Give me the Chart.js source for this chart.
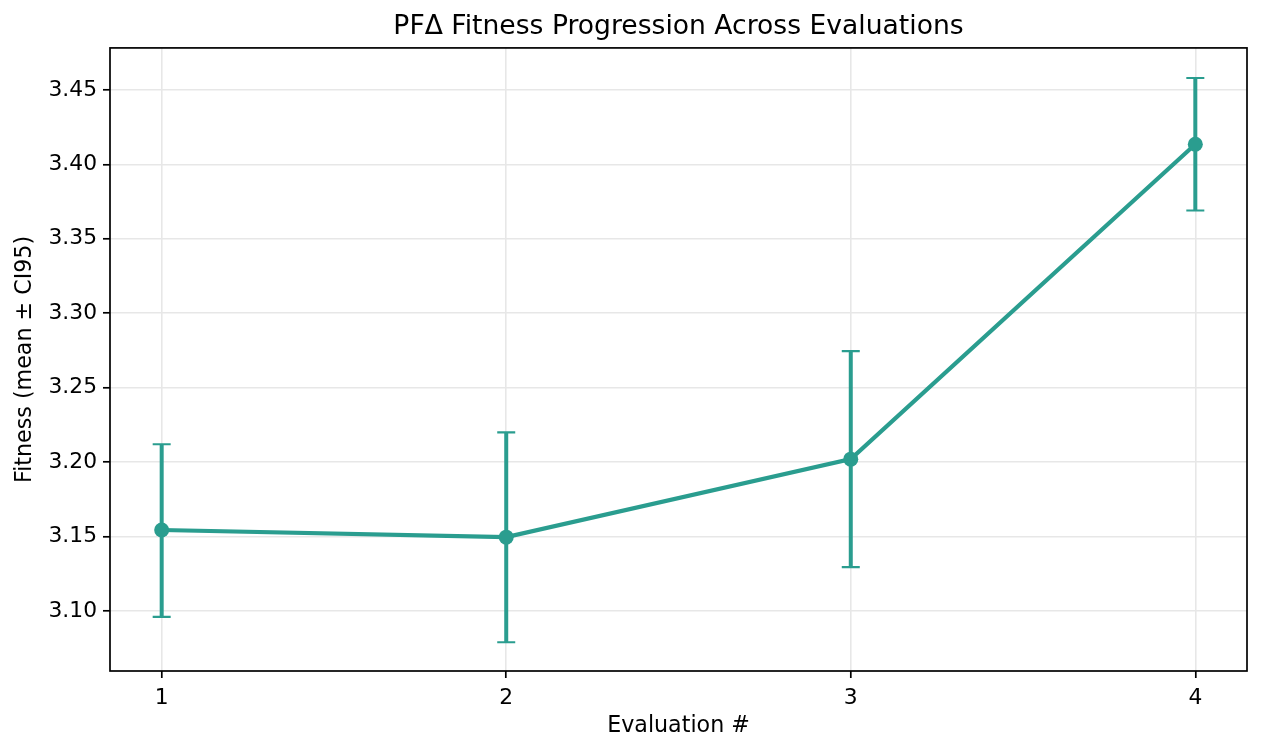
<!DOCTYPE html>
<html>
<head>
<meta charset="utf-8">
<script src="https://cdn.jsdelivr.net/npm/chart.js@4.4.1/dist/chart.umd.min.js"></script>
<style>
html,body{margin:0;padding:0;background:#fff;}
#wrap{width:1264px;height:752px;}
</style>
</head>
<body>
<div id="wrap"><canvas id="canvas" width="1264" height="752"></canvas></div>
<script>
var evaluations = [1, 2, 3, 4];
var meanFitness = [3.1544, 3.1496, 3.2020, 3.4135];
var ciLower = [3.0960, 3.0790, 3.1295, 3.3690];
var ciUpper = [3.2120, 3.2200, 3.2745, 3.4580];
var xTicks = [1, 2, 3, 4];
var yTicks = [3.10, 3.15, 3.20, 3.25, 3.30, 3.35, 3.40, 3.45];

var teal = "#2a9d8f";

var points = [];
for(var i = 0; i < evaluations.length; i++){
	points.push({x: evaluations[i], y: meanFitness[i]});
}

// error bars + full box around the plot
var errorBars = {
	id: "errorBars",
	beforeDatasetsDraw: function(chart){
		var ctx = chart.ctx;
		var xs = chart.scales.x, ys = chart.scales.y;
		ctx.save();
		ctx.strokeStyle = teal;
		for(var i = 0; i < evaluations.length; i++){
			var px = xs.getPixelForValue(evaluations[i]);
			var top = ys.getPixelForValue(ciUpper[i]);
			var bot = ys.getPixelForValue(ciLower[i]);
			ctx.lineWidth = 4;
			ctx.beginPath();
			ctx.moveTo(px, top); ctx.lineTo(px, bot);
			ctx.stroke();
			ctx.lineWidth = 2.2;
			ctx.beginPath();
			ctx.moveTo(px - 9, top); ctx.lineTo(px + 9, top);
			ctx.moveTo(px - 9, bot); ctx.lineTo(px + 9, bot);
			ctx.stroke();
		}
		ctx.restore();
	},
	afterDraw: function(chart){
		var a = chart.chartArea;
		var ctx = chart.ctx;
		ctx.save();
		ctx.strokeStyle = "#000";
		ctx.lineWidth = 1.7;
		ctx.strokeRect(a.left, a.top, a.right - a.left, a.bottom - a.top);
		ctx.restore();
	}
};

var canvas = document.getElementById("canvas");
var ctx = canvas.getContext("2d");
var chart = new Chart(ctx, {
	type: "line",
	data: {
		datasets: [{
			data: points,
			borderColor: teal,
			backgroundColor: teal,
			borderWidth: 4.2,
			pointRadius: 7.5,
			pointHoverRadius: 7.5,
			pointBorderWidth: 0,
			tension: 0,
			fill: false
		}]
	},
	options: {
		responsive: false,
		animation: false,
		devicePixelRatio: 1,
		layout: {padding: {left: 0, right: 17, top: 0, bottom: 0}},
		plugins: {
			legend: {display: false},
			tooltip: {enabled: false},
			title: {
				display: true,
				fullSize: false,
				text: "PF\u0394 Fitness Progression Across Evaluations",
				color: "#000",
				font: {family: "DejaVu Sans", size: 26.6, weight: "normal", lineHeight: 1.2},
				padding: {top: 11, bottom: 5}
			}
		},
		scales: {
			x: {
				type: "linear",
				min: 0.85,
				max: 4.15,
				afterBuildTicks: function(axis){
					axis.ticks = xTicks.map(function(v){ return {value: v}; });
				},
				afterFit: function(axis){ axis.height = 81; },
				grid: {color: "#e7e7e7", lineWidth: 1.6, tickColor: "#000", tickWidth: 1.7, tickLength: 7},
				border: {display: false},
				ticks: {color: "#000", font: {family: "DejaVu Sans", size: 21.8}, padding: 7,
					maxRotation: 0, callback: function(v){ return String(v); }},
				title: {display: true, text: "Evaluation #", color: "#000",
					font: {family: "DejaVu Sans", size: 22.2, lineHeight: 1.2}, padding: {top: 0, bottom: 12.5}}
			},
			y: {
				type: "linear",
				min: 3.0597,
				max: 3.4782,
				afterBuildTicks: function(axis){
					axis.ticks = yTicks.map(function(v){ return {value: v}; });
				},
				afterFit: function(axis){ axis.width = 110; },
				grid: {color: "#e7e7e7", lineWidth: 1.6, tickColor: "#000", tickWidth: 1.7, tickLength: 7},
				border: {display: false},
				ticks: {color: "#000", font: {family: "DejaVu Sans", size: 21.8}, padding: 6,
					callback: function(v){ return v.toFixed(2); }},
				title: {display: true, text: "Fitness (mean \u00b1 CI95)", color: "#000",
					font: {family: "DejaVu Sans", size: 22.2, lineHeight: 1.2}, padding: {top: 11.5, bottom: 0}}
			}
		}
	},
	plugins: [errorBars]
});
</script>
</body>
</html>
